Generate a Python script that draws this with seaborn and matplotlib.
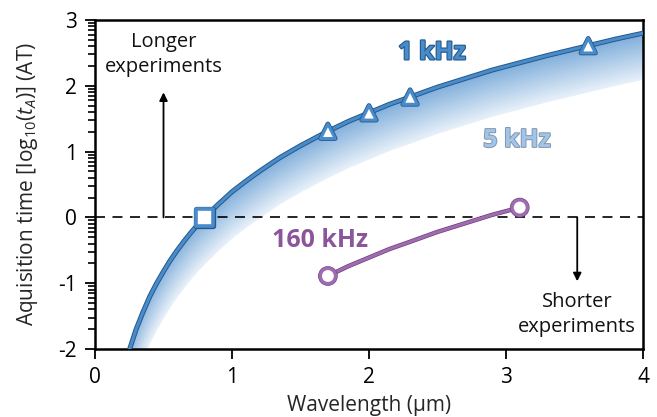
import numpy as np
import pandas as pd
import matplotlib
matplotlib.use("Agg")
import matplotlib.pyplot as plt
import matplotlib.patheffects as pe
from matplotlib.ticker import FixedLocator
import seaborn as sns

# ---------------- data ----------------
wavelength = [0.25, 0.275, 0.30, 0.35, 0.40, 0.45, 0.50, 0.55, 0.60, 0.65,
              0.70, 0.75, 0.80, 0.90, 1.00, 1.10, 1.20, 1.35, 1.50, 1.70,
              1.85, 2.00, 2.15, 2.30, 2.50, 2.70, 2.90, 3.10, 3.30, 3.60,
              3.80, 4.00]
khz1 = [-2.02, -1.86, -1.70, -1.44, -1.20, -1.00, -0.82, -0.65, -0.50, -0.36,
        -0.23, -0.11, 0.00, 0.20, 0.39, 0.55, 0.70, 0.91, 1.09, 1.31,
        1.46, 1.59, 1.72, 1.83, 1.98, 2.11, 2.24, 2.35, 2.46, 2.61,
        2.71, 2.80]
khz5 = [-2.72, -2.56, -2.40, -2.14, -1.90, -1.70, -1.52, -1.35, -1.20, -1.06,
        -0.93, -0.81, -0.70, -0.50, -0.31, -0.15, 0.00, 0.21, 0.39, 0.61,
        0.76, 0.89, 1.02, 1.13, 1.28, 1.41, 1.54, 1.65, 1.76, 1.91,
        2.01, 2.10]
tri_x = [1.7, 2.0, 2.3, 3.6]
tri_y = [1.31, 1.59, 1.83, 2.61]
sq_x = [0.8]
sq_y = [0.0]
khz160_x = [1.7, 1.85, 2.0, 2.15, 2.3, 2.5, 2.7, 2.9, 3.1]
khz160_y = [-0.89, -0.74, -0.61, -0.48, -0.37, -0.22, -0.09, 0.04, 0.15]
khz160_mx = [1.7, 3.1]
khz160_my = [-0.89, 0.15]
xticks = [0, 1, 2, 3, 4]
yticks = [-2, -1, 0, 1, 2, 3]

# ---------------- style ----------------
sns.set_theme(style="ticks")
plt.rcParams["font.family"] = ["Open Sans", "DejaVu Sans"]
plt.rcParams["mathtext.fontset"] = "custom"
plt.rcParams["mathtext.rm"] = "Open Sans"
plt.rcParams["mathtext.it"] = "Open Sans:italic"
plt.rcParams["axes.unicode_minus"] = False
plt.rcParams["ytick.minor.visible"] = True
plt.rcParams["ytick.minor.size"] = 5
plt.rcParams["ytick.minor.width"] = 1.2

BLUE = "#4a8bca"
DARK = "#23588c"
PURPLE = "#a06cb0"

fig = plt.figure(figsize=(6.57, 4.17), dpi=100)
ax = fig.add_axes([0.1446, 0.163, 0.8341, 0.789])

# gradient band between 1 kHz and 5 kHz curves
up = np.array(khz1)
lo = np.array(khz5)
c_top = np.array(matplotlib.colors.to_rgb("#5e99d2"))
c_bot = np.array(matplotlib.colors.to_rgb("#e3eef9"))
N = 60
for k in range(N):
    f0, f1 = k / N, (k + 1) / N
    col = c_top + (c_bot - c_top) * (k + 0.5) / N
    ax.fill_between(wavelength, up + (lo - up) * f0, up + (lo - up) * f1,
                    color=col, lw=0, zorder=1)

# dashed zero line
ax.axhline(0, color="black", lw=1.2, ls=(0, (6, 4.5)), zorder=2)

# 1 kHz curve
df1 = pd.DataFrame({"x": wavelength, "y": khz1})
sns.lineplot(data=df1, x="x", y="y", ax=ax, color=BLUE, lw=2.2, zorder=4,
             path_effects=[pe.Stroke(linewidth=3.6, foreground=DARK), pe.Normal()])

# markers
sns.scatterplot(x=tri_x, y=tri_y, ax=ax, marker="^", s=110, facecolor="white",
                edgecolor=BLUE, linewidth=2.2, zorder=5,
                path_effects=[pe.Stroke(linewidth=3.4, foreground=DARK), pe.Normal()])
sns.scatterplot(x=sq_x, y=sq_y, ax=ax, marker="s", s=140, facecolor="white",
                edgecolor=BLUE, linewidth=2.6, zorder=5,
                path_effects=[pe.Stroke(linewidth=3.8, foreground=DARK), pe.Normal()])

# 160 kHz
df160 = pd.DataFrame({"x": khz160_x, "y": khz160_y})
sns.lineplot(data=df160, x="x", y="y", ax=ax, color=PURPLE, lw=2.2, zorder=4,
             path_effects=[pe.Stroke(linewidth=3.2, foreground="#6d3f7c"), pe.Normal()])
sns.scatterplot(x=khz160_mx, y=khz160_my, ax=ax, marker="o", s=120, facecolor="white",
                edgecolor=PURPLE, linewidth=2.4, zorder=5,
                path_effects=[pe.Stroke(linewidth=3.2, foreground="#6d3f7c"), pe.Normal()])

# labels on curves
ax.text(2.46, 2.5, "1 kHz", color=BLUE, fontsize=18, fontweight="bold",
        ha="center", va="center", zorder=6,
        path_effects=[pe.Stroke(linewidth=1.6, foreground=DARK), pe.Normal()])
ax.text(3.08, 1.17, "5 kHz", color="#a3c4e6", fontsize=18, fontweight="bold",
        ha="center", va="center", zorder=6,
        path_effects=[pe.Stroke(linewidth=1.4, foreground="#7f97b0"), pe.Normal()])
ax.text(1.64, -0.35, "160 kHz", color="#8c559b", fontsize=18, fontweight="bold",
        ha="center", va="center", zorder=6)

# arrows and annotations
ax.annotate("", xy=(0.5, 1.9), xytext=(0.5, 0.0),
            arrowprops=dict(arrowstyle="-|>", color="black", lw=1.3,
                            mutation_scale=12, shrinkA=0, shrinkB=0))
ax.text(0.5, 2.48, "Longer\nexperiments", ha="center", va="center",
        fontsize=14.5, linespacing=1.35, color="#111111")
ax.annotate("", xy=(3.52, -0.97), xytext=(3.52, 0.0),
            arrowprops=dict(arrowstyle="-|>", color="black", lw=1.3,
                            mutation_scale=12, shrinkA=0, shrinkB=0))
ax.text(3.52, -1.48, "Shorter\nexperiments", ha="center", va="center",
        fontsize=14.5, linespacing=1.35, color="#111111")

# axes
ax.set_xlim(0, 4)
ax.set_ylim(-2, 3)
ax.xaxis.set_major_locator(FixedLocator(xticks))
ax.yaxis.set_major_locator(FixedLocator(yticks))
minor = [k + np.log10(m) for k in range(-2, 3) for m in range(2, 10)]
ax.yaxis.set_minor_locator(FixedLocator(minor))
ax.tick_params(axis="both", which="major", direction="out", length=7, width=1.3,
               labelsize=15, colors="black", pad=6)
ax.tick_params(axis="y", which="minor", direction="out", length=5, width=1.2,
               left=True, right=False, color="black")
ax.tick_params(axis="x", which="minor", bottom=False)
for s in ax.spines.values():
    s.set_visible(True)
    s.set_linewidth(1.8)
    s.set_color("black")
ax.set_xlabel("Wavelength (µm)", fontsize=15, labelpad=5)
ax.set_ylabel(r"Aquisition time [log$_{10}$($t_A$)] (AT)", fontsize=15, labelpad=13)

fig.savefig("out.png", dpi=100)
